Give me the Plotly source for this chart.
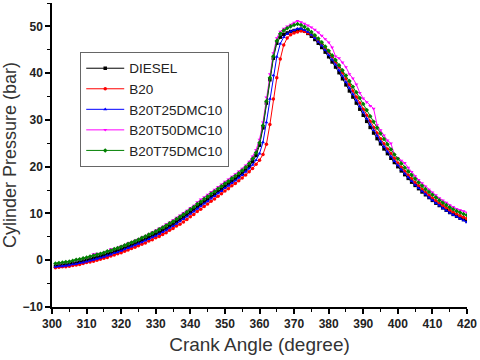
import plotly.graph_objects as go

# crank angle, 1 degree steps
crank_angle = list(range(301, 421))

diesel = [
    -1.3, -1.2, -1.1, -1.0, -0.9, -0.7, -0.6, -0.4, -0.2, 0.0,
    0.2, 0.4, 0.6, 0.8, 1.0, 1.3, 1.5, 1.8, 2.0, 2.3,
    2.6, 2.9, 3.2, 3.5, 3.8, 4.2, 4.5, 4.9, 5.2, 5.6,
    6.0, 6.4, 6.8, 7.3, 7.7, 8.2, 8.7, 9.2, 9.7, 10.3,
    10.8, 11.4, 11.9, 12.5, 13.0, 13.6, 14.1, 14.7, 15.2, 15.8,
    16.3, 16.9, 17.4, 18.0, 18.6, 19.3, 20.1, 21.1, 22.4, 24.6,
    28.3, 33.6, 38.6, 43.2, 46.4, 47.7, 48.3, 48.6, 48.9, 49.1,
    49.3, 49.4, 49.0, 48.5, 47.9, 47.2, 46.4, 45.5, 44.5, 43.5,
    42.4, 41.3, 40.1, 38.8, 37.5, 36.2, 34.9, 33.6, 32.3, 31.0,
    29.7, 28.4, 27.2, 26.0, 24.9, 23.8, 22.8, 21.8, 20.9, 20.0,
    19.1, 18.3, 17.5, 16.7, 16.0, 15.3, 14.6, 14.0, 13.4, 12.8,
    12.2, 11.7, 11.2, 10.7, 10.2, 9.8, 9.4, 9.0, 8.7, 8.4,
]

b20 = [
    -1.6, -1.5, -1.4, -1.4, -1.3, -1.1, -1.0, -0.9, -0.7, -0.5,
    -0.4, -0.2, 0.0, 0.2, 0.4, 0.6, 0.9, 1.1, 1.4, 1.6,
    1.9, 2.2, 2.5, 2.8, 3.1, 3.4, 3.7, 4.1, 4.4, 4.8,
    5.1, 5.5, 5.9, 6.4, 6.8, 7.3, 7.7, 8.2, 8.7, 9.3,
    9.8, 10.4, 10.9, 11.5, 12.0, 12.6, 13.1, 13.7, 14.2, 14.8,
    15.3, 15.9, 16.4, 17.0, 17.6, 18.2, 18.9, 19.6, 20.5, 21.4,
    22.6, 24.8, 29.0, 34.5, 39.0, 43.0, 46.0, 47.5, 48.2, 48.6,
    48.8, 49.0, 48.9, 48.6, 48.2, 47.6, 46.9, 46.2, 45.4, 44.5,
    43.5, 42.4, 41.3, 40.1, 38.8, 37.5, 36.2, 34.9, 33.6, 32.3,
    31.0, 29.7, 28.4, 27.2, 26.0, 24.9, 23.8, 22.8, 21.8, 20.8,
    19.9, 19.0, 18.2, 17.4, 16.6, 15.9, 15.2, 14.5, 13.9, 13.3,
    12.7, 12.2, 11.7, 11.2, 10.7, 10.3, 9.9, 9.5, 9.2, 8.9,
]

b20t25 = [
    -1.4, -1.3, -1.3, -1.2, -1.1, -0.9, -0.8, -0.6, -0.5, -0.3,
    -0.1, 0.1, 0.3, 0.5, 0.7, 1.0, 1.2, 1.5, 1.7, 2.0,
    2.3, 2.6, 2.9, 3.2, 3.5, 3.8, 4.2, 4.5, 4.9, 5.2,
    5.6, 6.0, 6.4, 6.9, 7.3, 7.8, 8.3, 8.8, 9.3, 9.9,
    10.4, 11.0, 11.5, 12.1, 12.6, 13.2, 13.7, 14.3, 14.8, 15.4,
    15.9, 16.5, 17.0, 17.6, 18.2, 18.9, 19.6, 20.4, 21.4, 22.8,
    25.2, 29.5, 34.5, 39.5, 43.5, 46.3, 47.7, 48.4, 48.9, 49.2,
    49.5, 49.5, 49.2, 48.8, 48.2, 47.5, 46.7, 45.9, 44.9, 43.9,
    42.9, 41.8, 40.6, 39.4, 38.1, 36.8, 35.5, 34.2, 32.9, 31.6,
    30.3, 29.0, 27.8, 26.6, 25.4, 24.3, 23.2, 22.2, 21.2, 20.3,
    19.4, 18.5, 17.7, 16.9, 16.1, 15.4, 14.7, 14.1, 13.4, 12.8,
    12.2, 11.7, 11.1, 10.6, 10.1, 9.7, 9.3, 8.9, 8.5, 8.1,
]

b20t50 = [
    -0.8, -0.7, -0.6, -0.5, -0.4, -0.2, 0.0, 0.2, 0.3, 0.5,
    0.7, 1.3, 1.4, 1.3, 1.6, 1.9, 2.4, 2.4, 2.7, 3.0,
    3.3, 3.6, 3.9, 4.2, 4.5, 4.9, 5.2, 5.6, 6.0, 6.4,
    6.8, 7.2, 7.7, 8.1, 8.6, 9.1, 9.6, 10.1, 10.6, 11.2,
    11.7, 12.4, 13.0, 13.5, 14.0, 14.6, 15.1, 15.7, 16.2, 16.8,
    17.3, 17.9, 18.4, 19.0, 19.6, 20.3, 21.1, 22.2, 23.6, 25.8,
    29.5, 34.8, 39.8, 44.3, 47.5, 48.9, 49.5, 50.0, 50.4, 50.8,
    51.2, 50.9, 50.6, 50.2, 49.8, 49.3, 48.7, 48.0, 47.3, 46.6,
    45.5, 43.6, 43.2, 42.3, 41.3, 39.8, 38.9, 37.6, 35.8, 34.6,
    33.8, 33.0, 32.4, 28.9, 27.8, 26.7, 25.6, 25.0, 22.6, 21.9,
    21.3, 20.8, 19.8, 18.9, 18.0, 17.2, 16.5, 15.8, 15.1, 14.5,
    13.9, 13.3, 12.8, 12.3, 11.8, 11.4, 11.0, 10.7, 10.5, 10.2,
]

b20t75 = [
    -0.7, -0.6, -0.5, -0.4, -0.3, -0.1, 0.1, 0.2, 0.4, 0.6,
    0.8, 1.0, 1.2, 1.4, 1.6, 1.9, 2.1, 2.4, 2.6, 2.9,
    3.2, 3.5, 3.8, 4.1, 4.4, 4.8, 5.1, 5.5, 5.8, 6.2,
    6.6, 7.0, 7.4, 7.9, 8.3, 8.8, 9.3, 9.8, 10.3, 10.9,
    11.4, 12.0, 12.5, 13.1, 13.6, 14.2, 14.7, 15.3, 15.8, 16.4,
    16.9, 17.5, 18.0, 18.6, 19.2, 19.9, 20.7, 21.7, 23.0, 25.1,
    28.8, 34.0, 39.0, 43.6, 46.9, 48.4, 49.1, 49.6, 50.0, 50.3,
    50.5, 50.3, 49.9, 49.4, 48.8, 48.1, 47.4, 46.6, 45.7, 44.8,
    43.8, 42.8, 41.7, 40.6, 39.5, 38.3, 37.1, 35.9, 34.7, 33.4,
    32.1, 30.8, 29.6, 28.3, 27.1, 25.9, 24.8, 23.7, 22.6, 21.7,
    20.7, 19.8, 19.0, 18.2, 17.4, 16.6, 15.9, 15.2, 14.6, 14.0,
    13.4, 12.8, 12.3, 11.8, 11.3, 10.9, 10.5, 10.2, 9.9, 9.6,
]

series = [
    ("DIESEL",      diesel, "#000000", "square"),
    ("B20",         b20,    "#ff0000", "circle"),
    ("B20T25DMC10", b20t25, "#0000ff", "triangle-up"),
    ("B20T50DMC10", b20t50, "#ff00ff", "triangle-down"),
    ("B20T75DMC10", b20t75, "#008000", "diamond"),
]

FONT = "Liberation Sans, Arial"

fig = go.Figure()
for name, ys, color, sym in series:
    fig.add_trace(go.Scatter(
        x=crank_angle, y=ys, mode="lines+markers", name=name,
        line=dict(color=color, width=1),
        marker=dict(symbol=sym, size=3.5, color=color),
    ))

axis_common = dict(
    showline=True, linecolor="#000000", linewidth=1.5, mirror=False,
    ticks="outside", ticklen=5, tickwidth=1.5, tickcolor="#000000",
    showgrid=False, zeroline=False, automargin=False,
    tickfont=dict(family=FONT, size=12, color="#222222", weight="bold"),
)

fig.update_layout(
    width=480, height=360,
    margin=dict(l=52, r=13, t=3, b=53),
    paper_bgcolor="white", plot_bgcolor="white",
    showlegend=True,
    legend=dict(
        x=0.068, y=0.839, xanchor="left", yanchor="top",
        bordercolor="#666666", borderwidth=1, bgcolor="white",
        font=dict(family=FONT, size=13.5, color="#222222"),
        tracegroupgap=0, itemwidth=38,
    ),
    xaxis=dict(
        range=[300, 420], tickvals=list(range(300, 421, 10)),
        minor=dict(ticks="outside", ticklen=3, tickwidth=1.2, tickcolor="#000000", dtick=5),
        title=dict(text="Crank Angle (degree)", standoff=8,
                   font=dict(family=FONT, size=19, color="#333333")),
        **axis_common,
    ),
    yaxis=dict(
        range=[-10, 55], tickvals=list(range(-10, 51, 10)),
        minor=dict(ticks="outside", ticklen=3, tickwidth=1.2, tickcolor="#000000", dtick=5),
        title=dict(text="Cylinder Pressure (bar)", standoff=6,
                   font=dict(family=FONT, size=18, color="#333333")),
        **axis_common,
    ),
)

# the page's default body margin would shift the figure by 8 px
fig.write_html("out.html", config={"displayModeBar": False},
               post_script="document.body.style.margin = '0';")
